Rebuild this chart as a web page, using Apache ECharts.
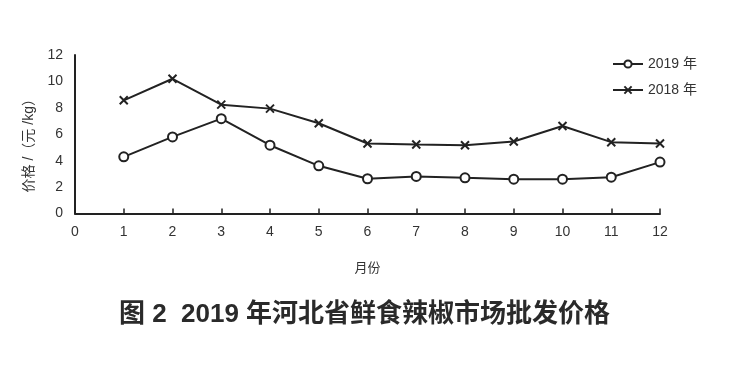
<!DOCTYPE html>
<html><head><meta charset="utf-8">
<script src="https://cdn.jsdelivr.net/npm/echarts@6/dist/echarts.min.js"></script>
<style>html,body{margin:0;padding:0;background:#fff}#c{width:729px;height:390px}</style>
</head><body><div id="c"></div>
<script>
const months = [1,2,3,4,5,6,7,8,9,10,11,12];
const price2019 = [4.29,5.8,7.18,5.17,3.61,2.63,2.81,2.7,2.6,2.6,2.75,3.89];
const price2018 = [8.57,10.2,8.24,7.94,6.83,5.3,5.22,5.17,5.45,6.63,5.4,5.3];
const seriesNames = ['2019 年','2018 年'];
const xTicks = [0,1,2,3,4,5,6,7,8,9,10,11,12];
const yTicks = [0,2,4,6,8,10,12];

const chart = echarts.init(document.getElementById('c'));
const cross = 'path://M0,0L10,10M10,0L0,10';
const latin = 'Liberation Sans, Noto Sans CJK SC, sans-serif';
chart.setOption({
  animation:false,
  backgroundColor:'#fff',
  title:{text:'图 2  2019 年河北省鲜食辣椒市场批发价格',left:'center',top:297,
    textStyle:{fontFamily:latin,fontSize:26,fontWeight:'bold',color:'#2a2a2a'}},
  legend:{left:607,top:52,orient:'vertical',itemGap:12,itemWidth:30,itemHeight:9,
    textStyle:{fontFamily:latin,fontSize:14,color:'#333'},
    data:[{name:seriesNames[0]},{name:seriesNames[1]}]},
  grid:{left:75,right:69,top:55,bottom:176.5,containLabel:false},
  xAxis:{type:'value',min:0,max:12,interval:1,
    name:'月份',nameLocation:'middle',nameGap:48,
    nameTextStyle:{fontFamily:latin,fontSize:13,color:'#333'},
    axisLine:{show:true,lineStyle:{color:'#222',width:2}},
    axisTick:{show:true,inside:true,length:5,lineStyle:{color:'#222',width:1.5}},
    axisLabel:{fontFamily:latin,fontSize:14,color:'#333',margin:12,
      formatter:v=>xTicks.includes(v)?String(v):''},
    splitLine:{show:false}},
  yAxis:{type:'value',min:0,max:12,interval:2,
    name:'价格 /（元 /kg）',nameLocation:'middle',nameGap:33,nameRotate:90,
    nameTextStyle:{fontFamily:latin,fontSize:14,color:'#333',padding:[0,16,0,0]},
    axisLine:{show:true,lineStyle:{color:'#222',width:2}},
    axisTick:{show:false},
    axisLabel:{fontFamily:latin,fontSize:14,color:'#333',margin:12,
      formatter:v=>yTicks.includes(v)?String(v):''},
    splitLine:{show:false}},
  series:[
    {name:seriesNames[0],type:'line',data:months.map((m,i)=>[m,price2019[i]]),
      symbol:'circle',symbolSize:9,showAllSymbol:true,
      lineStyle:{color:'#222',width:2},
      itemStyle:{color:'#fff',borderColor:'#222',borderWidth:2}},
    {name:seriesNames[1],type:'line',data:months.map((m,i)=>[m,price2018[i]]),
      symbol:cross,symbolSize:8,showAllSymbol:true,
      lineStyle:{color:'#222',width:2},
      itemStyle:{color:'#222',borderColor:'#222',borderWidth:2}}
  ]
});
</script></body></html>
